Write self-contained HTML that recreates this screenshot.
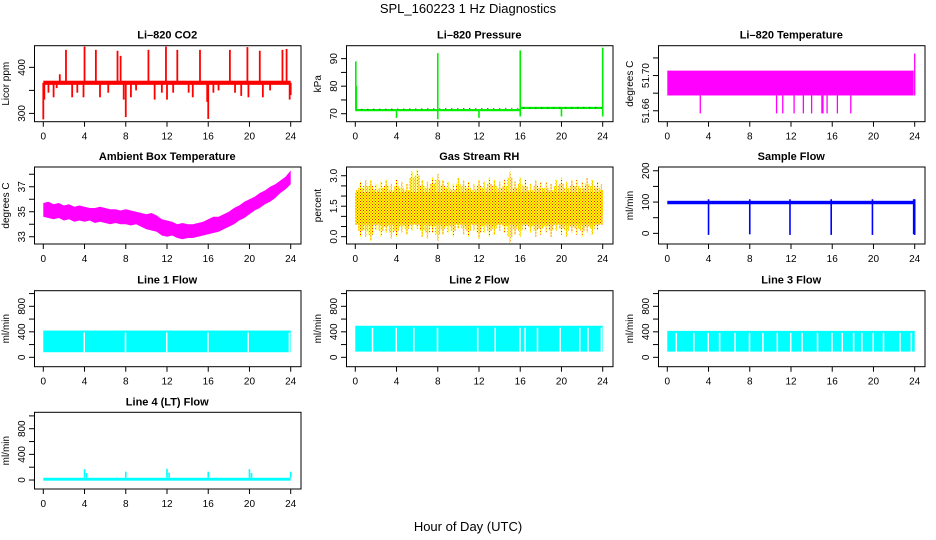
<!DOCTYPE html>
<html><head><meta charset="utf-8"><style>
body{margin:0;background:#fff}
svg{display:block;font-family:"Liberation Sans",sans-serif}
</style></head><body>
<svg id="c" width="936" height="540" xmlns="http://www.w3.org/2000/svg">
<defs>
<pattern id="rhdots" width="3" height="3" patternUnits="userSpaceOnUse"><rect x="0" y="0" width="1" height="1" fill="#ff0000"/><rect x="1.5" y="1.5" width="1" height="1" fill="#ff0000"/></pattern>
</defs>
<text x="468" y="13" text-anchor="middle" font-size="13">SPL_160223  1 Hz Diagnostics</text>
<text x="468" y="531" text-anchor="middle" font-size="13">Hour of Day (UTC)</text>
</svg>
<script>
// ---- data ----
const xTicks = [0,4,8,12,16,20,24];
// CO2
const co2Base = [362, 371];
const co2SpikeHours = [0.0,0.1,0.5,1.0,1.3,1.6,2.2,2.8,3.3,3.9,4.0,5.1,5.5,6.3,7.2,7.5,7.8,8.0,8.5,9.0,10.2,10.8,11.5,11.9,12.0,12.6,13.0,14.1,14.5,15.2,15.9,16.0,16.5,17.0,18.1,18.6,19.2,19.8,19.9,21.0,21.3,22.0,23.2,23.6,23.9,24.0];
const co2SpikeVals  = [287,330,345,335,355,385,438,335,345,335,445,438,335,345,436,425,330,292,335,350,438,330,345,445,330,345,438,345,335,438,325,288,345,350,438,345,338,444,335,436,335,350,438,440,330,340];
// Pressure
const presHours = [0,16,16,24];
const presBase = [71.2,71.4,72.0,72.2];
const presSpikeHours = [0.05,0.1,4.0,8.0,8.0,12.0,16.0,16.0,20.0,24.0,24.0];
const presSpikeVals  = [89,80,68.5,92,68,68.5,93,69,69,94,69];
// Li-820 Temperature
const tBand = [51.6774, 51.7056];
const tBandEnd = 23.9;
const tSpikeHours = [3.2,10.6,11.2,12.3,13.2,14.0,15.0,15.1,15.5,16.5,17.8,24.0];
const tSpikeVals  = [51.657,51.657,51.657,51.657,51.657,51.657,51.657,51.657,51.657,51.657,51.657,51.725];
// Ambient box temperature envelope
const ambHours = [0,0.5,1,1.5,2,2.5,3,3.5,4,4.5,5,5.5,6,6.5,7,7.5,8,8.5,9,9.5,10,10.5,11,11.5,12,12.5,13,13.5,14,14.5,15,15.5,16,16.5,17,17.5,18,18.5,19,19.5,20,20.5,21,21.5,22,22.5,23,23.5,24];
const ambLow  = [34.6,34.5,34.4,34.5,34.3,34.4,34.2,34.3,34.2,34.3,34.1,34.2,34.1,34.0,34.1,34.0,34.0,33.9,34.0,33.8,33.6,33.5,33.4,33.1,33.0,33.1,32.9,32.8,32.9,32.9,33.0,33.1,33.2,33.3,33.4,33.6,33.8,34.0,34.3,34.5,34.8,35.1,35.3,35.6,35.8,36.1,36.5,36.8,37.2];
const ambHigh = [35.7,35.8,35.6,35.7,35.5,35.6,35.4,35.5,35.4,35.3,35.3,35.4,35.3,35.2,35.2,35.1,35.2,35.1,35.0,34.9,34.8,34.9,34.7,34.4,34.3,34.2,34.0,34.1,34.0,34.0,34.1,34.2,34.4,34.6,34.6,34.8,35.0,35.3,35.5,35.8,36.0,36.2,36.5,36.7,37.0,37.2,37.5,37.8,38.3];
// Gas stream RH (half-hour envelope)
const rhHigh = [2.3,2.7,2.8,2.8,2.6,2.7,2.8,2.6,2.8,2.7,2.6,3.2,3.3,2.8,2.7,2.9,3.1,2.8,2.7,2.6,2.9,2.8,2.7,2.6,2.8,2.7,2.9,2.8,2.7,2.8,3.2,2.7,2.9,2.8,2.6,2.8,2.7,2.7,2.6,2.8,2.9,2.7,2.8,2.8,2.7,2.9,2.8,2.7,2.6];
const rhLow  = [0.8,0.0,0.0,-0.2,0.3,0.0,0.2,-0.1,0.0,0.2,0.1,0.3,0.4,0.0,-0.1,0.2,-0.2,0.1,0.2,0.0,0.4,0.1,0.0,0.3,-0.1,0.2,0.0,0.1,0.3,0.2,-0.3,0.1,0.0,0.3,0.2,0.0,0.1,0.2,0.0,0.3,0.1,0.0,0.2,0.1,0.0,0.2,0.1,0.3,0.8];
// Sample flow
const sfBase = [93, 104];
const sfDipHours = [4.0,8.0,11.9,15.9,19.9,23.9,24.0];
const sfDipVals  = [-5,-3,-5,-5,-5,-3,-5];
// Line flows
const l1Band = [80, 420]; const l1Gaps = [3.9,7.9,11.9,15.9,19.8,23.8];
const l2Band = [90, 495]; const l2Gaps = [1.6,3.9,5.6,7.9,11.8,13.5,15.9,16.4,17.6,19.8,21.7,22.5,23.8];
const l3Band = [90, 415]; const l3Gaps = [0.8,2.5,3.9,5.0,6.5,7.9,9.2,10.6,11.9,13.0,14.5,15.9,16.9,18.0,18.8,19.9,20.9,22.5,23.6];
const l4Band = [-10, 35];
const l4SpikeHours = [4.0,4.2,8.0,12.0,12.2,16.0,20.0,20.2,24.0];
const l4SpikeVals  = [170,110,130,175,115,130,170,110,130];

// ---- layout ----
const svg = document.getElementById('c');
const NS = 'http://www.w3.org/2000/svg';
const colX = [34, 346, 658];
const rowY = [[45.7,121.7],[167,244],[290.7,366.7],[412.3,489]];
const W = 266.5;
function mk(tag, attrs, parent){const e=document.createElementNS(NS,tag);for(const k in attrs)e.setAttribute(k,attrs[k]);(parent||svg).appendChild(e);return e;}
function panel(name, col, row, ylo, yhi, ticks, labels, ytitle, title){
  const x0=colX[col], y0=rowY[row][0], y1=rowY[row][1];
  const g = mk('g',{});
  
  
  const sx = h => x0 + 9.3 + h*(247.4/24);
  const sy = v => y1 - (v-ylo)/(yhi-ylo)*(y1-y0);
  const plot = mk('g',{},g);
  
  
  const ax = mk('g',{stroke:'#000','stroke-width':1,fill:'none'},g);
  
  
  xTicks.forEach(t=>{
    mk('line',{x1:sx(t),x2:sx(t),y1:y1,y2:y1+5},ax);
    const tx=mk('text',{x:sx(t),y:y1+18,'text-anchor':'middle','font-size':10,fill:'#000',stroke:'none'},g);
    tx.textContent=t;
    
    
  });
  ticks.forEach(t=>{
    mk('line',{x1:x0-5,x2:x0,y1:sy(t),y2:sy(t)},ax);
  });
  labels.forEach(t=>{
    const yy=sy(t.v), xx=x0-9;
    const tx=mk('text',{x:xx,y:yy,transform:`rotate(-90 ${xx} ${yy})`,'text-anchor':'middle','font-size':10,fill:'#000'},g);
    tx.textContent=t.s;
    
    
  });
  const ttx=x0-25, tty=(y0+y1)/2;
  const yt=mk('text',{x:ttx,y:tty,transform:`rotate(-90 ${ttx} ${tty})`,'text-anchor':'middle','font-size':10,fill:'#000'},g);
  yt.textContent=ytitle;
  
  
  const tt=mk('text',{x:x0+W/2,y:y0-7,'text-anchor':'middle','font-size':11,'font-weight':'bold',fill:'#000'},g);
  tt.textContent=title;
  
  
  const fr=mk('rect',{x:x0+0.5,y:y0,width:W,height:y1-y0,fill:'none',stroke:'#000'},g);
  
  
  return {sx,sy,plot};
}
function band(p,h0,h1,lo,hi,color){
  const r=mk('rect',{x:p.sx(h0),y:p.sy(hi),width:Math.max(1,p.sx(h1)-p.sx(h0)),height:Math.max(1,p.sy(lo)-p.sy(hi)),fill:color},p.plot);
  
  
  return r;
}
function spike(p,h,from,to,color,w){
  const l=mk('line',{x1:p.sx(h),x2:p.sx(h),y1:p.sy(from),y2:p.sy(to),stroke:color,'stroke-width':w||1.5},p.plot);
  
  
}
function gaps(p,arr,lo,hi){
  arr.forEach(h=>{const r=mk('rect',{x:p.sx(h),y:p.sy(hi)+2,width:1.5,height:p.sy(lo)-p.sy(hi)-2,fill:'#fff'},p.plot);
    
    });
}
const L=(v,s)=>({v,s:s===undefined?String(v):s});

// CO2
let p=panel('co2',0,0,282,447,[300,350,400],[L(300),L(400)],'Licor ppm','Li–820 CO2');
band(p,0,24,co2Base[0],co2Base[1],'#ff0000');
co2SpikeHours.forEach((h,i)=>spike(p,h,(co2Base[0]+co2Base[1])/2,co2SpikeVals[i],'#ff0000',1.8));
// Pressure
p=panel('pressure',1,0,67.1,94.7,[70,75,80,85,90],[L(70),L(80),L(90)],'kPa','Li–820 Pressure');
for(let i=0;i<presHours.length-1;i+=2){band(p,presHours[i],presHours[i+1],presBase[i]-0.3,presBase[i+1]+0.3,'#00ee00');}
mk('line',{x1:p.sx(0),x2:p.sx(24),y1:p.sy(71.6),y2:p.sy(72.2),stroke:'#000','stroke-width':0.8,'stroke-dasharray':'1 5'},p.plot);
presSpikeHours.forEach((h,i)=>spike(p,h,presBase[h>=16?3:0],presSpikeVals[i],'#00ee00',1.6));
// Li-820 temperature
p=panel('licor-temp',2,0,51.6476,51.7339,[51.66,51.68,51.70,51.72],[L(51.66,'51.66'),L(51.70,'51.70')],'degrees C','Li–820 Temperature');
band(p,0,tBandEnd,tBand[0],tBand[1],'#ff00ff');
tSpikeHours.forEach((h,i)=>spike(p,h,tBand[0],tSpikeVals[i],'#ff00ff',1.3));
// Ambient
p=panel('ambient-temp',0,1,32.42,38.58,[33,34,35,36,37,38],[L(33),L(35),L(37)],'degrees C','Ambient Box Temperature');
{let d='';ambHours.forEach((h,i)=>{d+=(i?'L':'M')+p.sx(h)+' '+p.sy(ambHigh[i]);});
 for(let i=ambHours.length-1;i>=0;i--)d+='L'+p.sx(ambHours[i])+' '+p.sy(ambLow[i]);
 const e=mk('path',{d:d+'Z',fill:'#ff00ff'},p.plot);}
// RH
p=panel('rh',1,1,-0.36,3.43,[0,0.5,1,1.5,2,2.5,3],[L(0,'0.0'),L(1.5,'1.5'),L(3,'3.0')],'percent','Gas Stream RH');
rhHigh.forEach((hi,i)=>{const h0=Math.max(0,i*0.5-0.25),h1=Math.min(24,i*0.5+0.25);
  band(p,h0,h1,0.6,2.2,'#ffff00');
  for(let k=0;k<3;k++){spike(p,h0+(k+0.5)*(h1-h0)/3,1.2,k==1?hi:hi-0.3,'#ffff00',1.2);spike(p,h0+(k+0.5)*(h1-h0)/3,1.2,k==1?rhLow[i]:rhLow[i]+0.3,'#ffff00',1.2);}
});
{const e=mk('rect',{x:p.sx(0),y:p.sy(3.3),width:p.sx(24)-p.sx(0),height:p.sy(-0.3)-p.sy(3.3),fill:'url(#rhdots)',opacity:0.9},p.plot);
 
 const m=mk('mask',{id:'rhm'},svg);const mg=p.plot.cloneNode(true);mg.querySelectorAll('*').forEach(n=>{n.setAttribute('fill','#fff');n.setAttribute('stroke','#fff');});mg.removeChild(mg.lastChild);m.appendChild(mg);e.setAttribute('mask','url(#rhm)');}
// Sample flow
p=panel('sample-flow',2,1,-34,212,[0,50,100,150,200],[L(0),L(100),L(200)],'ml/min','Sample Flow');
band(p,0,23.9,sfBase[0],sfBase[1],'#0000ff');
sfDipHours.forEach((h,i)=>spike(p,h,sfBase[1]+5,sfDipVals[i],'#0000ff',1.6));
// Line flows
const fTicks=[0,200,400,600,800,1000], fLabels=[L(0),L(400),L(800)];
p=panel('line1-flow',0,2,-147,1045,fTicks,fLabels,'ml/min','Line 1 Flow');
band(p,0,24,l1Band[0],l1Band[1],'#00ffff');gaps(p,l1Gaps,l1Band[0],l1Band[1]);
p=panel('line2-flow',1,2,-147,1045,fTicks,fLabels,'ml/min','Line 2 Flow');
band(p,0,24,l2Band[0],l2Band[1],'#00ffff');gaps(p,l2Gaps,l2Band[0],l2Band[1]);
p=panel('line3-flow',2,2,-147,1045,fTicks,fLabels,'ml/min','Line 3 Flow');
band(p,0,24,l3Band[0],l3Band[1],'#00ffff');gaps(p,l3Gaps,l3Band[0],l3Band[1]);
p=panel('line4-flow',0,3,-140,1056,fTicks,fLabels,'ml/min','Line 4 (LT) Flow');
band(p,0,24,l4Band[0],l4Band[1],'#00ffff');
l4SpikeHours.forEach((h,i)=>spike(p,h,l4Band[1],l4SpikeVals[i],'#00ffff',1.6));
</script>
</body></html>
